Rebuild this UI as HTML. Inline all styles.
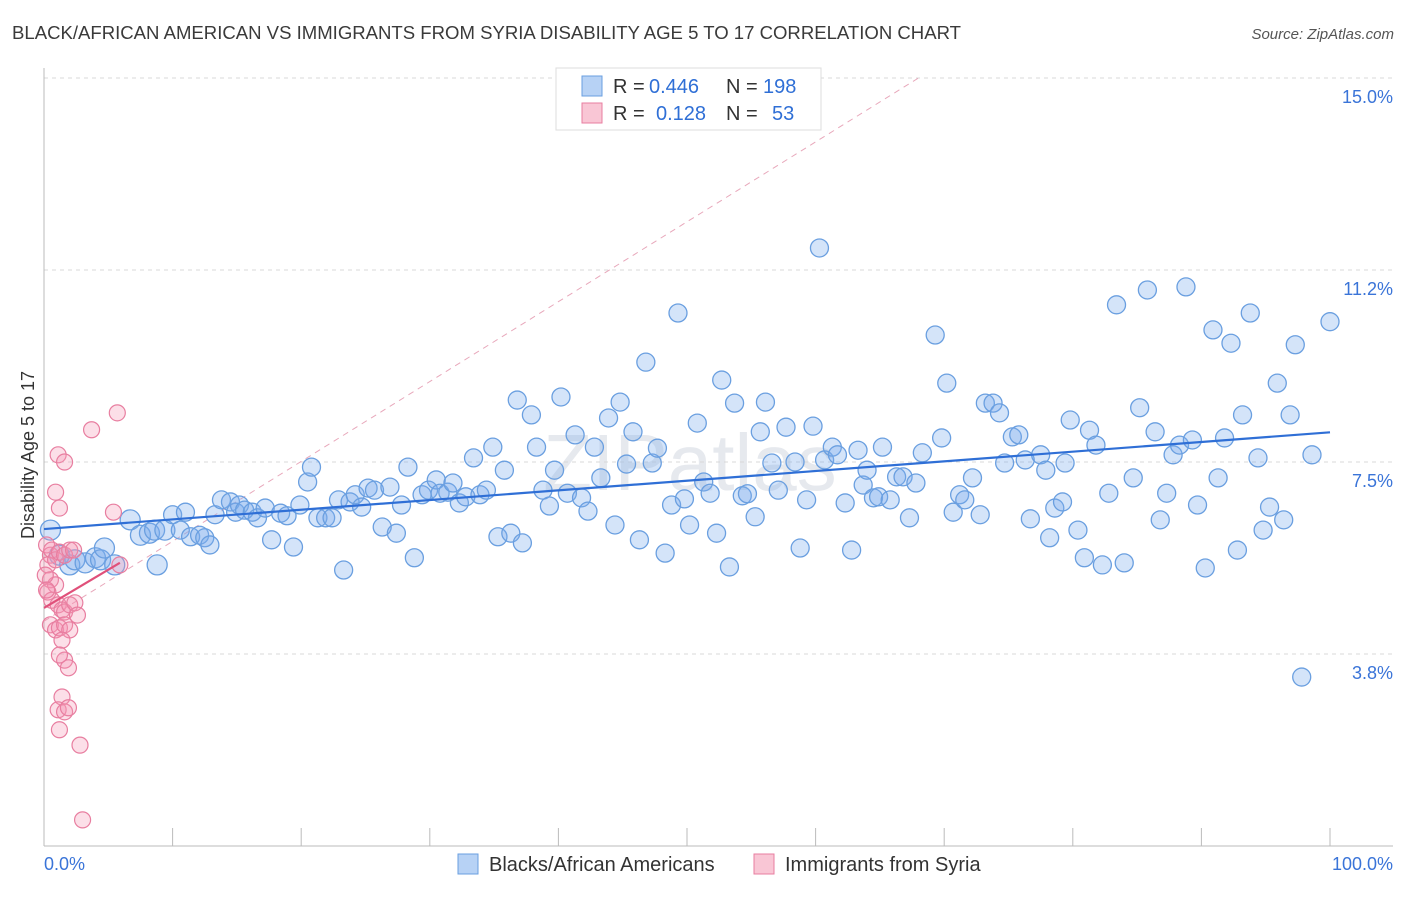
<!DOCTYPE html>
<html><head><meta charset="utf-8"><style>
body{margin:0;background:#fff;font-family:"Liberation Sans",sans-serif;}
svg text{font-family:"Liberation Sans",sans-serif;}
</style></head><body>
<svg id="chart" width="1406" height="892" xmlns="http://www.w3.org/2000/svg">
<text x="12" y="39" font-size="18.2" fill="#3a3a3a" textLength="949" lengthAdjust="spacingAndGlyphs">BLACK/AFRICAN AMERICAN VS IMMIGRANTS FROM SYRIA DISABILITY AGE 5 TO 17 CORRELATION CHART</text>
<text x="1394" y="39" font-size="15" fill="#555" font-style="italic" text-anchor="end">Source: ZipAtlas.com</text>
<text x="690" y="490" font-size="80" fill="#e6e9ee" text-anchor="middle" font-family="Liberation Serif">ZIPatlas</text>
<g id="grid"></g>
<g id="axes"></g>
<g id="marks"></g>
<text transform="translate(34,455) rotate(-90)" font-size="18" fill="#333" text-anchor="middle">Disability Age 5 to 17</text>
<g>
<rect x="556" y="68" width="265" height="62" fill="#fff" stroke="#ddd"/>
<rect x="582" y="76" width="20" height="20" fill="#b7d2f5" stroke="#6a9fe0"/>
<text x="613" y="93" font-size="20" fill="#333">R =</text>
<text x="649" y="93" font-size="20" fill="#2f6fd6">0.446</text>
<text x="726" y="93" font-size="20" fill="#333">N =</text>
<text x="763" y="93" font-size="20" fill="#2f6fd6">198</text>
<rect x="582" y="103" width="20" height="20" fill="#f9c6d5" stroke="#e87ea0"/>
<text x="613" y="120" font-size="20" fill="#333">R =</text>
<text x="656" y="120" font-size="20" fill="#2f6fd6">0.128</text>
<text x="726" y="120" font-size="20" fill="#333">N =</text>
<text x="772" y="120" font-size="20" fill="#2f6fd6">53</text>
</g>
<g>
<rect x="458" y="854" width="20" height="20" fill="#b7d2f5" stroke="#6a9fe0"/>
<text x="489" y="871" font-size="20" fill="#333">Blacks/African Americans</text>
<rect x="754" y="854" width="20" height="20" fill="#f9c6d5" stroke="#e87ea0"/>
<text x="785" y="871" font-size="20" fill="#333">Immigrants from Syria</text>
</g>
</svg>
<script>
const yTicks=[3.8,7.5,11.2,15.0];
const yTickVals=[3.75,7.5,11.25,15];
const xTickLabels=["0.0%","100.0%"];
const blueX=[0.5,1.2,2.0,2.4,3.2,4.0,4.4,4.7,5.5,6.7,7.5,8.2,8.6,8.8,9.4,10.0,10.6,11.0,11.4,12.1,12.5,12.9,13.3,13.8,14.5,14.9,15.2,15.6,16.2,16.6,17.2,17.7,18.4,18.9,19.4,19.9,20.5,20.8,21.3,21.9,22.4,22.9,23.3,23.8,24.2,24.7,25.2,25.7,26.3,26.9,27.4,27.8,28.3,28.8,29.4,29.9,30.5,30.8,31.4,31.8,32.3,32.8,33.4,33.9,34.4,34.9,35.3,35.8,36.3,36.8,37.2,37.9,38.3,38.8,39.3,39.7,40.2,40.7,41.3,41.8,42.3,42.8,43.3,43.9,44.4,44.8,45.3,45.8,46.3,46.8,47.3,47.7,48.3,48.8,49.3,49.8,50.2,50.8,51.3,51.8,52.3,52.7,53.3,53.7,54.3,54.7,55.3,55.7,56.1,56.6,57.1,57.7,58.4,58.8,59.3,59.8,60.3,60.7,61.3,61.7,62.3,62.8,63.3,63.7,64.0,64.5,64.9,65.2,65.8,66.3,66.8,67.3,67.8,68.3,69.3,69.8,70.2,70.7,71.2,71.6,72.2,72.8,73.2,73.8,74.3,74.7,75.3,75.8,76.3,76.7,77.5,77.9,78.2,78.6,79.2,79.4,79.8,80.4,80.9,81.3,81.8,82.3,82.8,83.4,84.0,84.7,85.2,85.8,86.4,86.8,87.3,87.8,88.3,88.8,89.3,89.7,90.3,90.9,91.3,91.8,92.3,92.8,93.2,93.8,94.4,94.8,95.3,95.9,96.4,96.9,97.3,97.8,98.6,100.0];
const blueY=[6.17,5.68,5.49,5.59,5.53,5.63,5.59,5.82,5.49,6.37,6.07,6.11,6.17,5.49,6.17,6.47,6.17,6.52,6.04,6.07,6.02,5.88,6.47,6.76,6.72,6.52,6.66,6.56,6.52,6.41,6.60,5.98,6.50,6.45,5.84,6.66,7.11,7.40,6.41,6.41,6.41,6.76,5.39,6.72,6.86,6.62,6.99,6.95,6.23,7.01,6.11,6.66,7.40,5.63,6.86,6.95,7.15,6.89,6.91,7.09,6.70,6.82,7.58,6.86,6.95,7.79,6.04,7.34,6.11,8.71,5.92,8.42,7.79,6.95,6.64,7.34,8.77,6.89,8.03,6.80,6.54,7.79,7.19,8.36,6.27,8.67,7.46,8.09,5.98,9.45,7.48,7.77,5.72,6.66,10.41,6.78,6.27,8.26,7.11,6.89,6.11,9.10,5.45,8.65,6.84,6.88,6.43,8.09,8.67,7.48,6.95,8.18,7.50,5.82,6.76,8.20,11.68,7.54,7.79,7.64,6.70,5.78,7.73,7.05,7.34,6.80,6.82,7.79,6.76,7.21,7.21,6.41,7.09,7.68,9.98,7.97,9.04,6.52,6.86,6.76,7.19,6.47,8.65,8.65,8.46,7.48,7.99,8.03,7.54,6.39,7.64,7.34,6.02,6.60,6.72,7.48,8.32,6.17,5.63,8.12,7.83,5.49,6.89,10.57,5.53,7.19,8.56,10.86,8.09,6.37,6.89,7.64,7.83,10.92,7.93,6.66,5.43,10.08,7.19,7.97,9.82,5.78,8.42,10.41,7.58,6.17,6.62,9.04,6.37,8.42,9.79,3.30,7.64,10.24];
const pinkX=[0.2,0.5,0.6,0.3,0.9,1.2,1.6,2.0,0.5,0.9,0.3,0.6,1.1,1.4,1.6,2.0,2.4,2.6,0.5,0.9,1.2,1.6,2.0,1.4,1.6,1.9,1.2,1.4,1.1,1.6,1.9,1.2,2.8,3.0,1.1,1.6,0.9,1.2,3.7,5.7,5.4,5.9,2.3,0.1,0.2];
const pinkY=[5.88,5.68,5.78,5.49,5.59,5.74,5.68,5.78,5.20,5.10,4.96,4.80,4.71,4.61,4.57,4.71,4.75,4.51,4.32,4.22,4.26,4.32,4.22,4.02,3.63,3.48,3.73,2.91,2.66,2.62,2.70,2.27,1.97,0.51,7.64,7.50,6.91,6.60,8.13,8.46,6.52,5.49,5.78,5.29,5.00];
const blueTrend=[6.19,8.08];
const pinkTrend=[4.65,5.53];
const pinkTrendX=[0,5.9];
const refLine=[[0,4.39],[68,15]];

const NS="http://www.w3.org/2000/svg";
const X=v=>44+v*12.86;
const Y=v=>78+(15-v)*51.2;
function mk(tag,attrs,parent){const e=document.createElementNS(NS,tag);for(const k in attrs)e.setAttribute(k,attrs[k]);parent.appendChild(e);return e;}
const grid=document.getElementById('grid'),axes=document.getElementById('axes'),marks=document.getElementById('marks');
yTickVals.forEach((v,i)=>{
  const l=mk('line',{x1:44,x2:1393,y1:Y(v),y2:Y(v),stroke:'#d8d8d8','stroke-dasharray':'4,4'},grid);
  
  
  const t=mk('text',{x:1393,y:Y(v)+25,'font-size':18,fill:'#3a74d8','text-anchor':'end'},axes);
  t.textContent=yTicks[i].toFixed(1)+'%';
  
  
});
const ax=mk('line',{x1:44,x2:44,y1:68,y2:Y(0),stroke:'#bbb'},axes);


const bx=mk('line',{x1:44,x2:1393,y1:Y(0),y2:Y(0),stroke:'#bbb'},axes);


for(let i=0;i<=10;i++){
  const tk=mk('line',{x1:X(i*10),x2:X(i*10),y1:Y(0)-18,y2:Y(0),stroke:'#bbb'},axes);
  
  
}
[[0,'start'],[100,'end']].forEach((p,i)=>{
  const t=mk('text',{x:i?1393:44,y:870,'font-size':18,fill:'#3a74d8','text-anchor':p[1]},axes);
  t.textContent=xTickLabels[i];
  
  
});
const rl=mk('line',{x1:X(refLine[0][0]),y1:Y(refLine[0][1]),x2:X(refLine[1][0]),y2:Y(refLine[1][1]),stroke:'#e8a8bb','stroke-dasharray':'6,5','stroke-width':1},marks);


blueX.forEach((x,i)=>{
  const c=mk('circle',{cx:X(x),cy:Y(blueY[i]),r:x<10?10:9,fill:'rgba(120,170,235,0.32)',stroke:'#6a9fe0','stroke-width':1.3},marks);
  
  
});
pinkX.forEach((x,i)=>{
  const c=mk('circle',{cx:X(x),cy:Y(pinkY[i]),r:8,fill:'rgba(245,150,180,0.3)',stroke:'#e87ea0','stroke-width':1.2},marks);
  
  
});
const bt=mk('line',{x1:X(0),y1:Y(blueTrend[0]),x2:X(100),y2:Y(blueTrend[1]),stroke:'#2f6fd6','stroke-width':2.2},marks);


const pt=mk('line',{x1:X(pinkTrendX[0]),y1:Y(pinkTrend[0]),x2:X(pinkTrendX[1]),y2:Y(pinkTrend[1]),stroke:'#e0507a','stroke-width':2.2},marks);


</script>
</body></html>
